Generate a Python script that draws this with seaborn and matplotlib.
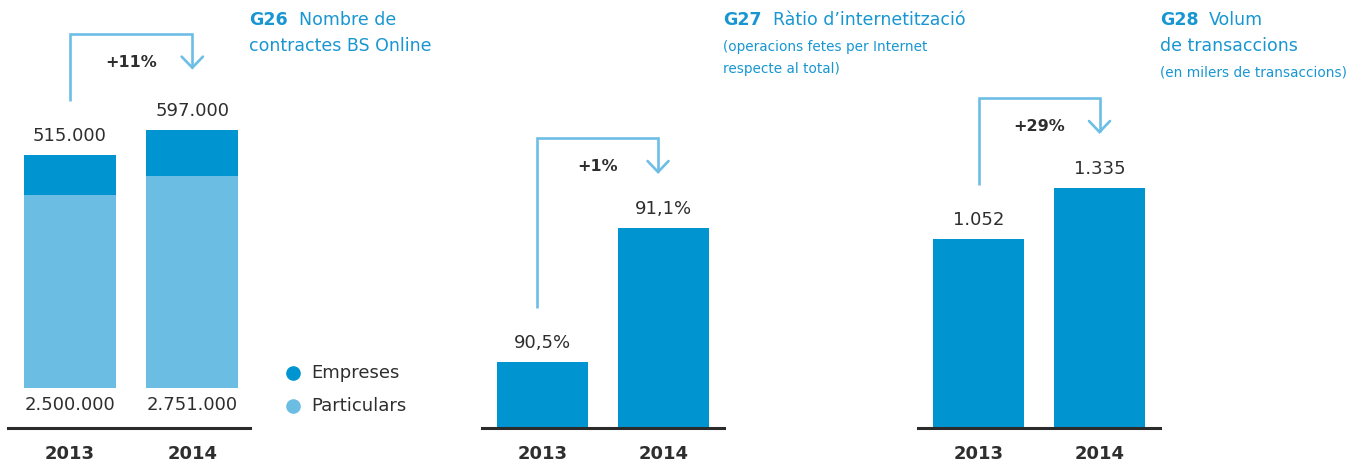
import matplotlib
matplotlib.use("Agg")
import matplotlib.pyplot as plt
import seaborn as sns
import pandas as pd
from matplotlib.lines import Line2D

# ---------------- data ----------------
years = ["2013", "2014"]
g26_particulars = [2500000, 2751000]
g26_empreses = [515000, 597000]
g26_part_labels = ["2.500.000", "2.751.000"]
g26_emp_labels = ["515.000", "597.000"]
g26_change = "+11%"

g27_ratio = [90.5, 91.1]
g27_labels = ["90,5%", "91,1%"]
g27_change = "+1%"

g28_volume = [1052, 1335]
g28_labels = ["1.052", "1.335"]
g28_change = "+29%"

legend_labels = ["Empreses", "Particulars"]

# ---------------- style ----------------
sns.set_theme(style="white")
plt.rcParams["font.family"] = ["DejaVu Sans"]

DARK = "#0095d0"
LIGHT = "#6bbde4"
ARROW = "#6dbee6"
TITLE = "#1896d2"
TEXT = "#2e2e2e"
AXIS = "#2b2b2b"

W, H = 1361, 462
fig = plt.figure(figsize=(W / 100, H / 100), dpi=100)
fig.patch.set_facecolor("white")

AX_H_PX = 428  # axes from top of figure down to the baseline rule


def make_ax(left_px, width_px):
    ax = fig.add_axes([left_px / W, (H - AX_H_PX) / H, width_px / W, AX_H_PX / H])
    ax.set_facecolor("none")
    return ax


def style_ax(ax, xlim, ylim):
    ax.set_xlim(*xlim)
    ax.set_ylim(*ylim)
    for s in ["top", "right", "left"]:
        ax.spines[s].set_visible(False)
    ax.spines["bottom"].set_color(AXIS)
    ax.spines["bottom"].set_linewidth(2.2)
    ax.set_yticks([])
    ax.set_xlabel("")
    ax.set_ylabel("")
    ax.tick_params(axis="x", length=0, pad=12, labelsize=13, colors=TEXT)
    for lab in ax.get_xticklabels():
        lab.set_fontweight("bold")
    ax.grid(False)


def dpp(ax):
    y0, y1 = ax.get_ylim()
    return (y1 - y0) / AX_H_PX


def bracket(ax, low_val, high_val, text, dx=0.0, top_px=90):
    d = dpp(ax)
    y_bottom = low_val + 54 * d
    y_top = high_val + top_px * d
    y_tip = y_top - 34 * d
    x0, x1 = 0 + dx, 1 + dx
    ax.plot([x0, x0, x1, x1], [y_bottom, y_top, y_top, y_tip], color=ARROW,
            lw=1.9, solid_joinstyle="miter", solid_capstyle="butt", clip_on=False)
    # chevron
    ax.plot([x1 - 10.5 / 121, x1, x1 + 10.5 / 121], [y_tip + 11 * d, y_tip, y_tip + 11 * d],
            color=ARROW, lw=1.9, solid_joinstyle="miter", clip_on=False)
    ax.text(0.5 + dx, y_top - 28.5 * d, text, ha="center", va="center",
            fontsize=11.5, fontweight="bold", color=TEXT)


def value_labels(ax, vals, labels):
    d = dpp(ax)
    for i, (v, lab) in enumerate(zip(vals, labels)):
        ax.text(i, v + 19 * d, lab, ha="center", va="center", fontsize=13, color=TEXT)


BAR_W = 91 / 121.5
BAR_KW = dict(saturation=1, width=BAR_W, edgecolor="none", linewidth=0)

# ---------------- G26 ----------------
ax1 = make_ax(8, 242)
g26_total = [p + e for p, e in zip(g26_particulars, g26_empreses)]
df1 = pd.DataFrame({"year": years, "total": g26_total, "part": g26_particulars})
sns.barplot(data=df1, x="year", y="total", color=DARK, ax=ax1, **BAR_KW)
sns.barplot(data=df1, x="year", y="part", color=LIGHT, ax=ax1, **BAR_KW)
style_ax(ax1, (-0.504, 1.471), (-518000, 5028000))
value_labels(ax1, g26_total, g26_emp_labels)
d1 = dpp(ax1)
for i, lab in enumerate(g26_part_labels):
    ax1.text(i, -17 * d1, lab, ha="center", va="center", fontsize=13, color=TEXT)
bracket(ax1, g26_total[0], g26_total[1], g26_change, top_px=96)

# ---------------- G27 ----------------
ax2 = make_ax(482, 242)
df2 = pd.DataFrame({"year": years, "ratio": g27_ratio})
sns.barplot(data=df2, x="year", y="ratio", color=DARK, ax=ax2, **BAR_KW)
style_ax(ax2, (-0.5, 1.5), (90.2045, 92.121))
value_labels(ax2, g27_ratio, g27_labels)
bracket(ax2, g27_ratio[0], g27_ratio[1], g27_change, dx=-0.045)

# ---------------- G28 ----------------
ax3 = make_ax(918, 242)
df3 = pd.DataFrame({"year": years, "vol": g28_volume})
sns.barplot(data=df3, x="year", y="vol", color=DARK, ax=ax3, **BAR_KW)
style_ax(ax3, (-0.5, 1.5), (0, 2381))
value_labels(ax3, g28_volume, g28_labels)
bracket(ax3, g28_volume[0], g28_volume[1], g28_change)


# ---------------- titles ----------------
def fx(px):
    return px / W


def fy(py):
    return 1 - py / H


TFS = 12.5
SFS = 9.8
fig.text(fx(249), fy(20), "G26", fontsize=TFS, fontweight="bold", color=TITLE, va="center")
fig.text(fx(299), fy(20), "Nombre de", fontsize=TFS, color=TITLE, va="center")
fig.text(fx(249), fy(46), "contractes BS Online", fontsize=TFS, color=TITLE, va="center")

fig.text(fx(723), fy(20), "G27", fontsize=TFS, fontweight="bold", color=TITLE, va="center")
fig.text(fx(773), fy(20), "Ràtio d’internetització", fontsize=TFS, color=TITLE, va="center")
fig.text(fx(723), fy(47), "(operacions fetes per Internet", fontsize=SFS, color=TITLE, va="center")
fig.text(fx(723), fy(69), "respecte al total)", fontsize=SFS, color=TITLE, va="center")

fig.text(fx(1160), fy(20), "G28", fontsize=TFS, fontweight="bold", color=TITLE, va="center")
fig.text(fx(1209), fy(20), "Volum", fontsize=TFS, color=TITLE, va="center")
fig.text(fx(1160), fy(46), "de transaccions", fontsize=TFS, color=TITLE, va="center")
fig.text(fx(1160), fy(73), "(en milers de transaccions)", fontsize=SFS, color=TITLE, va="center")

# ---------------- legend ----------------
for lab, col, py in zip(legend_labels, [DARK, LIGHT], [373, 406]):
    fig.add_artist(Line2D([fx(293)], [fy(py)], marker="o", markersize=9.5,
                          markerfacecolor=col, markeredgecolor=col, linestyle="none",
                          transform=fig.transFigure))
    fig.text(fx(311), fy(py), lab, fontsize=13, color=TEXT, va="center")

fig.savefig("out.png", dpi=100, facecolor="white")
